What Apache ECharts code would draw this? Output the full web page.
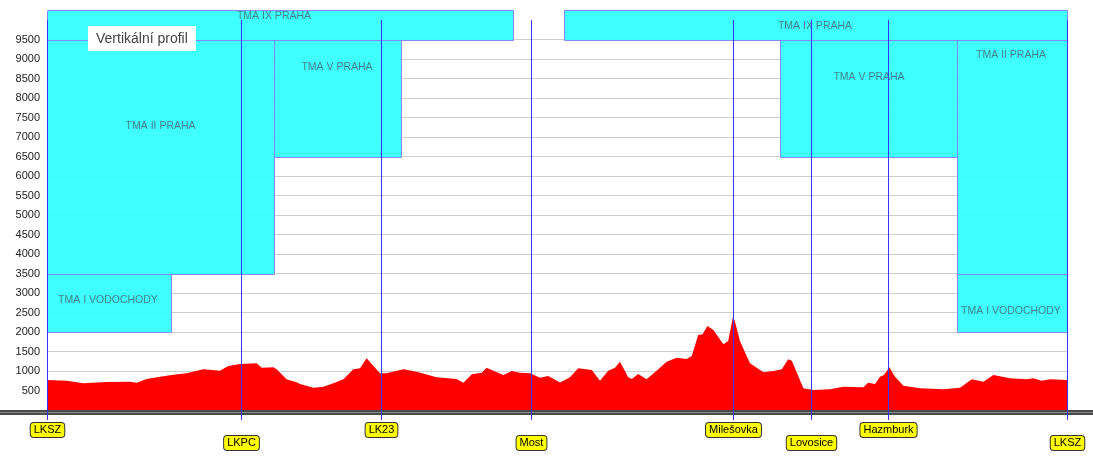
<!DOCTYPE html>
<html>
<head>
<meta charset="utf-8">
<script src="https://cdn.jsdelivr.net/npm/echarts@6/dist/echarts.min.js"></script>
<style>
html,body{margin:0;padding:0;background:#fff;}
#chart{width:1093px;height:458px;}
</style>
</head>
<body>
<div id="chart"></div>
<script>
// Route distances (km) and terrain elevation (ft)
var profileDist = [0,4.9,9.1,14.9,20.75,22.4,24.9,28.25,31.6,34.9,39.1,43.25,45.3,48.25,52.4,53.7,56.6,57.4,59.9,62.4,63.25,66.6,69.1,71.6,74.1,76.6,78.25,79.9,83.25,84.9,89.1,92.4,97.4,102.4,104.1,106.2,108.7,109.9,111.6,114.1,116.2,118.25,120.75,123.25,125.3,128.25,130.75,132.8,136.2,138.25,140.3,142,143.25,145.3,146.2,147.8,149.9,152.4,154.9,157.4,159.9,161.2,162.8,163.9,165.1,166.6,169.1,170.3,171.5,172,173.25,175.75,179.1,181.6,183.7,185.3,186.2,189.1,191.6,195.75,199.1,204.1,205.3,207,208.25,209.25,210.6,212,214.1,218.25,224.1,228.25,231.2,234.1,236.6,240.75,244.9,246.6,248.7,250.75,255];
var profileElev = [770,750,685,718,727,700,795,855,906,940,1043,1009,1128,1180,1197,1085,1094,1043,786,709,667,573,598,684,786,1043,1068,1325,940,940,1043,983,838,795,701,915,957,1085,1009,897,1000,957,940,829,872,705,838,1068,1026,752,1009,1085,1239,838,795,923,786,1009,1239,1342,1308,1385,1923,1940,2154,2051,1684,1770,2393,2265,1761,1197,966,1000,1043,1299,1260,556,513,534,598,581,701,667,855,897,1094,855,624,556,530,573,786,727,897,812,786,812,752,786,770];

// Waypoints
var wpNames = ['LKSZ','LKPC','LK23','Most','Milešovka','Lovosice','Hazmburk','LKSZ'];
var wpDist = [0,48.5,83.5,121,171.5,191,210.25,255];

// Airspaces
var tmaNames = ['TMA IX PRAHA','TMA IX PRAHA','TMA II PRAHA','TMA V PRAHA','TMA I VODOCHODY','TMA V PRAHA','TMA II PRAHA','TMA I VODOCHODY'];
var tmaFrom  = [0,129.25,0,56.75,0,183.25,227.5,227.5];
var tmaTo    = [116.5,255,56.75,88.5,31,227.5,255,255];
var tmaLow   = [9500,9500,3500,6500,2000,6500,3500,2000];
var tmaHigh  = [10250,10250,9500,9500,3500,9500,9500,3500];
var tmaLabelDist = [56.75,192,28.4,72.5,15.25,205.5,241,241];
var tmaLabelAlt  = [10090,9846,7282,8795,2820,8538,9103,2538];

var yTicksHidden = [0,10000];

var FONT = '"Liberation Sans", Arial, sans-serif';
var WP_BLUE = '#3535ff';

var chart = echarts.init(document.getElementById('chart'));

var tmaData = tmaNames.map(function(n,i){ return [tmaFrom[i], tmaTo[i], tmaLow[i], tmaHigh[i], tmaLabelDist[i], tmaLabelAlt[i]]; });
var wpData = wpDist.map(function(d){ return [d]; });
var profileData = profileDist.map(function(d,i){ return [d, profileElev[i]]; });

var option = {
  animation: false,
  backgroundColor: '#fff',
  title: {
    text: 'Vertikální profil',
    left: 88, top: 26,
    backgroundColor: '#fff',
    padding: [6,8,5,8],
    textStyle: {fontSize: 14, fontWeight: 'normal', color: '#444', fontFamily: FONT}
  },
  grid: {left: 47, right: 26, top: 20, bottom: 48},
  xAxis: {
    type: 'value', min: 0, max: 255,
    show: false
  },
  yAxis: {
    type: 'value', min: 0, max: 10000, interval: 500,
    axisLine: {show: false}, axisTick: {show: false},
    axisLabel: {
      margin: 7, fontSize: 11, color: '#222', fontFamily: FONT,
      formatter: function(v){ return yTicksHidden.indexOf(v) >= 0 ? '' : String(v); }
    },
    splitLine: {show: true, showMinLine: false, showMaxLine: false, lineStyle: {color: '#cfcfcf', width: 1}}
  },
  series: [
    {
      type: 'custom',
      name: 'tma',
      z: 2,
      clip: false,
      data: tmaData,
      renderItem: function(params, api){
        var p0 = api.coord([api.value(0), api.value(3)]);
        var p1 = api.coord([api.value(1), api.value(2)]);
        var lp = api.coord([api.value(4), api.value(5)]);
        var x0 = Math.round(p0[0]) + 0.5, y0 = Math.round(p0[1]) + 0.5;
        var x1 = Math.round(p1[0]) + 0.5, y1 = Math.round(p1[1]) + 0.5;
        return {
          type: 'group',
          children: [
            {type: 'rect', shape: {x: x0, y: y0, width: x1 - x0, height: y1 - y0},
             style: {fill: 'rgba(51,255,255,0.94)', stroke: '#8686ff', lineWidth: 1}},
            {type: 'text', x: lp[0], y: lp[1],
             style: {text: tmaNames[params.dataIndex], fill: '#3f8587', fontSize: 10.5, fontFamily: FONT,
                     align: 'center', verticalAlign: 'middle'}}
          ]
        };
      }
    },
    {
      type: 'line',
      name: 'terrain',
      z: 3,
      data: profileData,
      symbol: 'none',
      smooth: false,
      lineStyle: {width: 0, color: '#ff0000'},
      areaStyle: {color: '#ff0000', opacity: 1},
      itemStyle: {color: '#ff0000'},
      markLine: {
        silent: true,
        symbol: ['none', 'none'],
        label: {show: false},
        lineStyle: {color: WP_BLUE, width: 1, type: 'solid', opacity: 1},
        z: 6,
        data: wpDist.map(function(d){ return {xAxis: d}; })
      }
    },
    {
      type: 'custom',
      name: 'baseline',
      z: 4,
      clip: false,
      data: [[0]],
      renderItem: function(params, api){
        var y = Math.round(api.coord([0, 0])[1]);
        var w = api.getWidth();
        return {
          type: 'group',
          children: [
            {type: 'rect', shape: {x: 0, y: y, width: w, height: 5}, style: {fill: '#4a4a4a'}},
            {type: 'rect', shape: {x: 0, y: y + 2, width: w, height: 1}, style: {fill: '#8a8a8a'}}
          ]
        };
      }
    },
    {
      type: 'custom',
      name: 'waypoints',
      z: 7,
      clip: false,
      data: wpData,
      renderItem: function(params, api){
        var x = Math.round(api.coord([api.value(0), 0])[0]);
        var yBase = Math.round(api.coord([0, 0])[1]);
        var row = params.dataIndex % 2;
        return {
          type: 'group',
          children: [
            {type: 'rect', shape: {x: x, y: yBase - 1, width: 1, height: 11},
             style: {fill: WP_BLUE}},
            {type: 'text', x: x + 0.5, y: yBase + 20 + row * 13,
             style: {text: wpNames[params.dataIndex], fill: '#000', fontSize: 11, fontFamily: FONT,
                     align: 'center', verticalAlign: 'middle',
                     backgroundColor: '#ffff00', borderColor: '#333', borderWidth: 1, borderRadius: 3,
                     padding: [2, 3, 1, 3]}}
          ]
        };
      }
    }
  ]
};
chart.setOption(option);
</script>
</body>
</html>
